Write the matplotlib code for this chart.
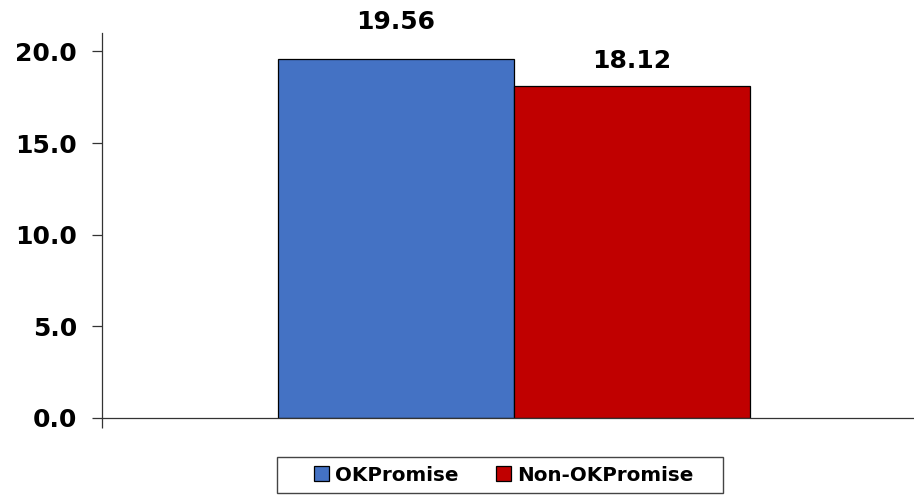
import numpy as np
import matplotlib.pyplot as plt
from matplotlib.patches import Rectangle

series = ['OKPromise', 'Non-OKPromise']
values = [19.56, 18.12]
colors = ['#4472C4', '#C00000']
label_offsets = [18, 9]  # points above bar top

fig = plt.figure(figsize=(9.14, 4.98), dpi=100)
ax = fig.add_axes([0.1116, 0.161, 0.8884, 0.7725])

x = np.arange(len(series))
bars = ax.bar(x, values, width=1.0, color=colors, edgecolor='black', linewidth=0.9,
              label=series)

for rect, v, off in zip(bars, values, label_offsets):
    ax.annotate('%.2f' % v, (rect.get_x() + rect.get_width() / 2, rect.get_height()),
                xytext=(0, off), textcoords='offset points', ha='center', va='bottom',
                fontsize=18, fontweight='bold')

ax.set_xlim(-1.246, 2.195)
ax.set_ylim(0, 21)
ax.set_yticks([0, 5, 10, 15, 20])
ax.set_yticklabels(['%.1f' % t for t in [0, 5, 10, 15, 20]], fontsize=18, fontweight='bold')
ax.set_xticks([-1.246])
ax.set_xticklabels([])
ax.tick_params(axis='both', direction='out', length=7, width=0.9, color='#333333')
ax.tick_params(axis='y', pad=11)

for s in ['top', 'right']:
    ax.spines[s].set_visible(False)
for s in ['left', 'bottom']:
    ax.spines[s].set_color('#333333')
    ax.spines[s].set_linewidth(0.9)

# legend box drawn separately so it can be wider than the entries
fig.patches.append(Rectangle((277 / 914, 1 - 493 / 498), 446 / 914, 36 / 498,
                             transform=fig.transFigure, facecolor='white',
                             edgecolor='#444444', linewidth=1.0))
leg = fig.legend(bars, series, loc='center', bbox_to_anchor=(504 / 914, 1 - 475 / 498),
                 ncol=2, frameon=False,
                 prop={'weight': 'bold', 'size': 14.3}, handlelength=0.75, handleheight=0.75,
                 handletextpad=0.3, columnspacing=1.9, borderpad=0.3, borderaxespad=0)

plt.savefig('out.png', dpi=100)
